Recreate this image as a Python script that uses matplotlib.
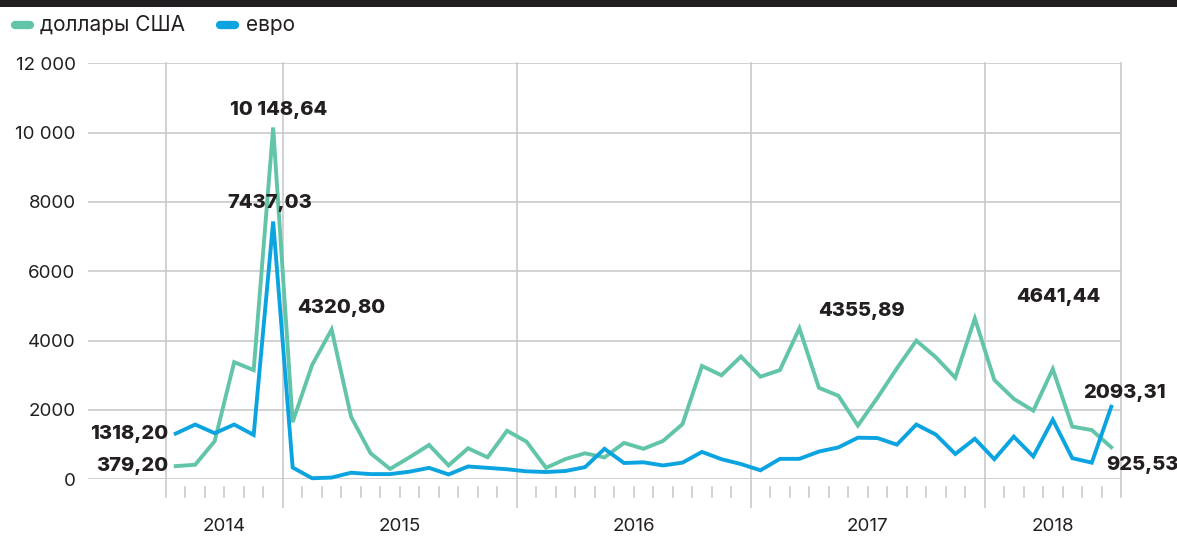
import matplotlib
matplotlib.use('Agg')
import matplotlib.pyplot as plt
from matplotlib.lines import Line2D
import numpy as np

# monthly values, Jul 2014 .. Jul 2018
usd = [379.20, 420, 1100, 3380, 3150, 10148.64,
       1650, 3300, 4320.80, 1800, 750, 300, 635, 990, 400, 895, 635, 1400,
       1085, 330, 585, 750, 630, 1050, 880, 1105, 1590, 3270, 3000, 3540,
       2960, 3150, 4355.89, 2640, 2410, 1550, 2350, 3200, 4000, 3520, 2930, 4641.44,
       2866, 2320, 1980, 3180, 1520, 1420, 925.53]
eur = [1318.20, 1580, 1330, 1580, 1280, 7437.03,
       340, 30, 50, 190, 150, 150, 220, 330, 140, 370, 330, 290,
       230, 210, 240, 350, 880, 470, 490, 400, 480, 790, 580, 440,
       260, 590, 590, 800, 920, 1200, 1190, 1000, 1580, 1290, 730, 1170,
       580, 1230, 660, 1720, 610, 480, 2093.31]
years = ['2014', '2015', '2016', '2017', '2018']
year_edges = [0, 6, 18, 30, 42, 49]
yticks = [0, 2000, 4000, 6000, 8000, 10000, 12000]
ytick_labels = ['0', '2000', '4000', '6000', '8000', '10 000', '12 000']
names = ['доллары США', 'евро']

green = '#62c4a8'
blue = '#0ca4e0'
dark = '#231f20'
grid = '#c9c9c9'

plt.rcParams['font.family'] = ['Inter', 'DejaVu Sans']

fig = plt.figure(figsize=(11.77, 5.4), dpi=100)
ax = fig.add_axes([88/1177, 1 - 479.3/540, (1121 - 88)/1177, (479.3 - 63.3)/540])
ax.set_xlim(-4, 49)
ax.set_ylim(0, 12000)

for s in ax.spines.values():
    s.set_visible(False)
ax.set_xticks([])
ax.set_yticks(yticks)
ax.set_yticklabels(ytick_labels, fontsize=13.5, color=dark)
ax.tick_params(axis='y', length=0, pad=9)
for v in yticks:
    ax.axhline(v, color=grid, lw=1.2, zorder=1)

px = 2000 / 69.3
# month ticks and year lines below the axis
for m in range(1, 49):
    if m in year_edges:
        ax.plot([m, m], [12000, -28 * px], color=grid, lw=1.2, clip_on=False, zorder=1)
    else:
        ax.plot([m, m], [-7.7 * px, -17.7 * px], color=grid, lw=1.2, clip_on=False, zorder=1)
for m in [0, 49]:
    ax.plot([m, m], [12000, -17.7 * px], color=grid, lw=1.2, clip_on=False, zorder=1)

for i in range(len(years)):
    xc = (year_edges[i] + year_edges[i + 1]) / 2
    ax.text(xc, -47.5 * px, years[i], ha='center', va='center', fontsize=13.5, color=dark)

x = np.arange(len(usd)) + 0.5
ax.plot(x, usd, color=green, lw=2.8, solid_joinstyle='miter', clip_on=False, zorder=3)
ax.plot(x, eur, color=blue, lw=2.8, solid_joinstyle='miter', clip_on=False, zorder=4)

lab = dict(fontsize=14.5, fontweight='heavy', color=dark, va='center', zorder=5)
ax.text(5.76, 10660, '10 148,64', ha='center', **lab)
ax.text(5.35, 7975, '7437,03', ha='center', **lab)
ax.text(6.75, 4950, '4320,80', ha='left', **lab)
ax.text(33.45, 4865, '4355,89', ha='left', **lab)
ax.text(43.6, 5270, '4641,44', ha='left', **lab)
ax.text(47.05, 2490, '2093,31', ha='left', **lab)
ax.text(48.25, 415, '925,53', ha='left', **lab)
ax.text(0.1, 1310, '1318,20', ha='right', **lab)
ax.text(0.1, 385, '379,20', ha='right', **lab)

# black strip on top
fig.add_artist(plt.Rectangle((0, 1 - 7/540), 1, 7/540, transform=fig.transFigure,
                             color=dark, lw=0))

# legend
for x0, x1, tx, c, name in [(15, 30, 40, green, names[0]), (220, 235, 246, blue, names[1])]:
    fig.add_artist(Line2D([x0/1177, x1/1177], [1 - 25/540, 1 - 25/540],
                          transform=fig.transFigure, color=c, lw=6,
                          solid_capstyle='round'))
    fig.text(tx/1177, 1 - 25/540, name, ha='left', va='center', fontsize=15, color=dark)

fig.savefig('out.png', dpi=100, facecolor='white')
